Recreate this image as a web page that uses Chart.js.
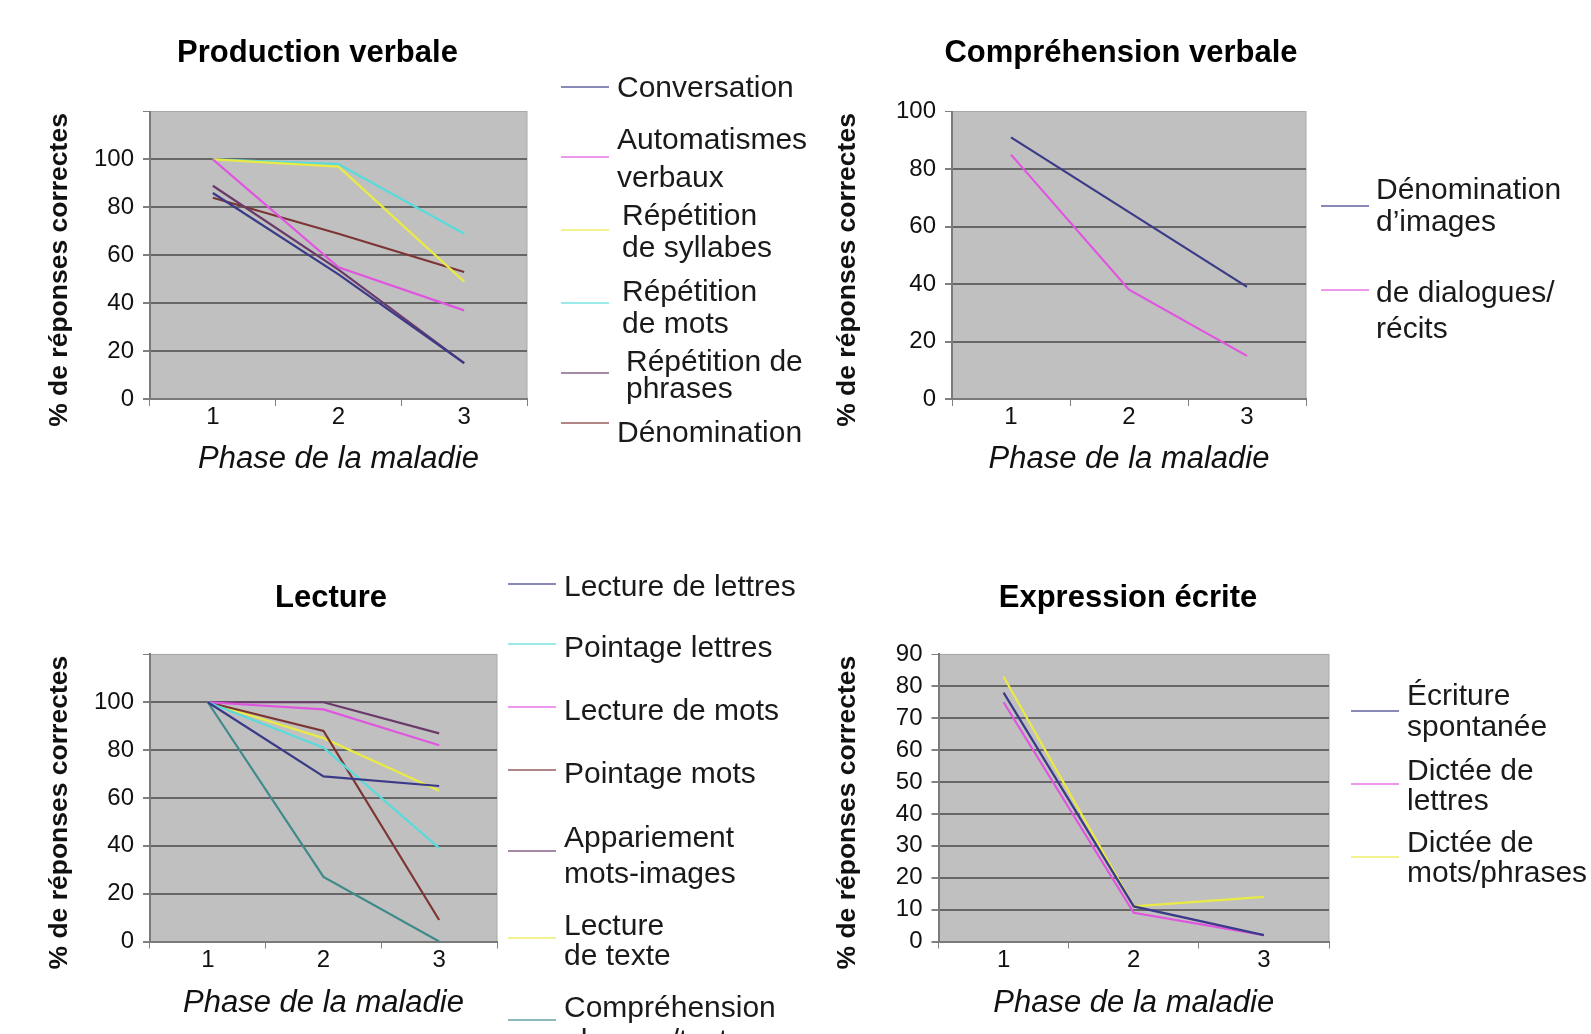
<!DOCTYPE html>
<html lang="fr">
<head>
<meta charset="utf-8">
<title>Performances selon la phase de la maladie</title>
<script src="https://cdn.jsdelivr.net/npm/chart.js@4.4.1/dist/chart.umd.min.js"></script>
<style>
  html, body { margin: 0; padding: 0; background: #fff; }
  body { width: 1591px; height: 1034px; position: relative; overflow: hidden; font-family: "Liberation Sans", Arial, sans-serif; }
  .box { position: absolute; }
  .leg { position: absolute; font-size: 30px; color: #1a1a1a; white-space: pre; }
  .sample { position: absolute; height: 2px; width: 48px; }
</style>
</head>
<body>
<div class="box" id="b1"><canvas id="c1"></canvas></div>
<div class="box" id="b2"><canvas id="c2"></canvas></div>
<div class="box" id="b3"><canvas id="c3"></canvas></div>
<div class="box" id="b4"><canvas id="c4"></canvas></div>
<script>
const phases = ['1', '2', '3'];

// Production verbale
const prodNames = ['Conversation', 'Automatismes\nverbaux', 'Répétition\nde syllabes', 'Répétition\nde mots', 'Répétition de\nphrases', 'Dénomination'];
const conversation = [86, 52, 15];
const automatismes = [100, 55, 37];
const repSyllabes = [100, 97, 49];
const repMots = [100, 98, 69];
const repPhrases = [89, 54, 15];
const denomination = [84, 69, 53];

// Compréhension verbale
const comprNames = ['Dénomination\nd\u2019images', 'de dialogues/\nrécits'];
const denomImages = [91, 65, 39];
const dialogues = [85, 38, 15];

// Lecture
const lectNames = ['Lecture de lettres', 'Pointage lettres', 'Lecture de mots', 'Pointage mots', 'Appariement\nmots-images', 'Lecture\nde texte', 'Compréhension\nphrases/textes'];
const lectLettres = [100, 69, 65];
const pointLettres = [100, 81, 39];
const lectMots = [100, 97, 82];
const pointMots = [100, 88, 9];
const appariement = [100, 100, 87];
const lectTexte = [100, 85, 63];
const comprPhrases = [100, 27, 0];

// Expression écrite
const ecritNames = ['Écriture\nspontanée', 'Dictée de\nlettres', 'Dictée de\nmots/phrases'];
const ecriture = [78, 11, 2];
const dicteeLettres = [75, 9, 2];
const dicteeMots = [83, 11, 14];

const FONT = '"Liberation Sans", Arial, sans-serif';
// trailing spaces push the rotated axis title a bit lower, as in the original
const Y_TITLE = '% de réponses correctes\u00a0\u00a0\u00a0\u00a0';

const plotBg = {
  id: 'plotBg',
  beforeDraw(chart) {
    const a = chart.chartArea;
    const ctx = chart.ctx;
    ctx.save();
    ctx.fillStyle = '#c0c0c0';
    ctx.fillRect(a.left, a.top, a.right - a.left, a.bottom - a.top);
    ctx.strokeStyle = '#a8a8a8';
    ctx.lineWidth = 1;
    ctx.strokeRect(a.left, a.top, a.right - a.left, a.bottom - a.top);
    ctx.restore();
  }
};

function drawPanel(n, title, series, names, colors, yMax, yStep, box) {
  const holder = document.getElementById('b' + n);
  holder.style.left = box.left + 'px';
  holder.style.top = box.top + 'px';
  holder.style.width = box.width + 'px';
  holder.style.height = box.height + 'px';

  new Chart(document.getElementById('c' + n), {
    type: 'line',
    data: {
      labels: phases,
      datasets: series.map((s, i) => ({
        label: names[i],
        data: s,
        borderColor: colors[i],
        borderWidth: 2.2,
        pointRadius: 0,
        tension: 0,
        fill: false,
        yAxisID: 'y'
      }))
    },
    options: {
      responsive: true,
      maintainAspectRatio: false,
      animation: false,
      layout: { padding: 0 },
      plugins: {
        legend: { display: false },
        tooltip: { enabled: false },
        title: {
          display: true,
          text: title,
          color: '#000',
          font: { family: FONT, size: 31, weight: 'bold' },
          padding: { top: box.titleTop, bottom: box.titleBottom }
        }
      },
      scales: {
        x: {
          offset: true,
          grid: { offset: true, drawOnChartArea: false, tickLength: 7, color: '#808080', lineWidth: 1 },
          border: { color: '#7a7a7a', width: 2 },
          ticks: { color: '#111', font: { family: FONT, size: 24 }, padding: -3 },
          title: {
            display: true,
            text: 'Phase de la maladie',
            color: '#111',
            font: { family: FONT, size: 31, style: 'italic' },
            padding: { top: 0, bottom: box.xTitleBottom }
          },
          afterFit: s => { s.height = box.xHeight; }
        },
        y: {
          min: 0,
          max: yMax,
          ticks: {
            stepSize: yStep,
            color: '#111',
            font: { family: FONT, size: 24 },
            padding: 9,
            callback: v => (v === 120 ? '' : v)
          },
          grid: {
            color: c => (c.tick && c.tick.value === yMax ? '#a8a8a8' : '#666'),
            lineWidth: c => (c.tick && c.tick.value === yMax ? 1 : 2),
            tickLength: 7,
            tickColor: '#808080'
          },
          border: { color: '#7a7a7a', width: 2 },
          title: {
            display: true,
            text: Y_TITLE,
            color: '#111',
            font: { family: FONT, size: 26.5, weight: 'bold' },
            padding: { top: box.yTitlePad, bottom: 0 }
          },
          afterFit: s => { s.width = box.yWidth; }
        },
        // empty right-hand band that holds the legend space
        side: {
          position: 'right',
          display: true,
          grid: { display: false },
          border: { display: false },
          ticks: { display: false },
          afterFit: s => { s.width = box.padRight; }
        }
      }
    },
    plugins: [plotBg]
  });
}

function drawLegend(left, textLeft, names, colors, layout) {
  names.forEach((name, i) => {
    const e = layout[i];
    const s = document.createElement('div');
    s.className = 'sample';
    s.style.left = left + 'px';
    s.style.top = (e.sample - 1) + 'px';
    s.style.background = colors[i];
    s.style.opacity = 0.6;
    const t = document.createElement('div');
    t.className = 'leg';
    t.textContent = name;
    t.style.left = (textLeft + (e.dx || 0)) + 'px';
    t.style.lineHeight = e.lh + 'px';
    t.style.top = (e.text - e.lh / 2) + 'px';
    document.body.appendChild(s);
    document.body.appendChild(t);
  });
}

const NAVY = '#3a3a88', MAGENTA = '#e055e0', YELLOW = '#eaea44', CYAN = '#5adada',
      PURPLE = '#6a3a6a', DARKRED = '#7c3434', TEAL = '#3f8a8a';

const prodColors = [NAVY, MAGENTA, YELLOW, CYAN, PURPLE, DARKRED];
drawPanel(1, 'Production verbale',
  [conversation, automatismes, repSyllabes, repMots, repPhrases, denomination],
  prodNames, prodColors, 120, 20,
  { left: 20, top: 10, width: 595, height: 480, padRight: 88, yWidth: 130, yTitlePad: 24.1,
    titleTop: 25.1, titleBottom: 39.2, xHeight: 91, xTitleBottom: 11.8 });
drawLegend(561, 617, prodNames, prodColors, [
  { text: 87, sample: 87, lh: 32 },
  { text: 139, sample: 157, lh: 38 },
  { text: 215, sample: 230, lh: 32, dx: 5 },
  { text: 290.5, sample: 303, lh: 32, dx: 5 },
  { text: 360.5, sample: 373, lh: 27, dx: 9 },
  { text: 432, sample: 423, lh: 32 }
]);

const comprColors = [NAVY, MAGENTA];
drawPanel(2, 'Compréhension verbale', [denomImages, dialogues],
  comprNames, comprColors, 100, 20,
  { left: 810, top: 10, width: 622, height: 480, padRight: 126, yWidth: 142, yTitlePad: 22.1,
    titleTop: 25.1, titleBottom: 39.2, xHeight: 91, xTitleBottom: 11.8 });
drawLegend(1321, 1376, comprNames, comprColors, [
  { text: 189, sample: 206, lh: 31.5 },
  { text: 292, sample: 290, lh: 35.5 }
]);

const lectColors = [NAVY, CYAN, MAGENTA, DARKRED, PURPLE, YELLOW, TEAL];
drawPanel(3, 'Lecture',
  [lectLettres, pointLettres, lectMots, pointMots, appariement, lectTexte, comprPhrases],
  lectNames, lectColors, 120, 20,
  { left: 20, top: 550, width: 622, height: 482, padRight: 145, yWidth: 130, yTitlePad: 24.1,
    titleTop: 30, titleBottom: 37.2, xHeight: 90.5, xTitleBottom: 9.6 });
drawLegend(508, 564, lectNames, lectColors, [
  { text: 586, sample: 584, lh: 32 },
  { text: 647, sample: 644, lh: 32 },
  { text: 710, sample: 707, lh: 32 },
  { text: 773, sample: 770, lh: 32 },
  { text: 837, sample: 851, lh: 36.6 },
  { text: 925, sample: 938, lh: 30 },
  { text: 1006, sample: 1020, lh: 33 }
]);

const ecritColors = [NAVY, MAGENTA, YELLOW];
drawPanel(4, 'Expression écrite', [ecriture, dicteeLettres, dicteeMots],
  ecritNames, ecritColors, 90, 10,
  { left: 810, top: 550, width: 636, height: 482, padRight: 117, yWidth: 128.5, yTitlePad: 22.1,
    titleTop: 30, titleBottom: 37.2, xHeight: 90.5, xTitleBottom: 9.6 });
drawLegend(1351, 1407, ecritNames, ecritColors, [
  { text: 694, sample: 711, lh: 31 },
  { text: 770, sample: 784, lh: 30 },
  { text: 842, sample: 857, lh: 30 }
]);
</script>
</body>
</html>
